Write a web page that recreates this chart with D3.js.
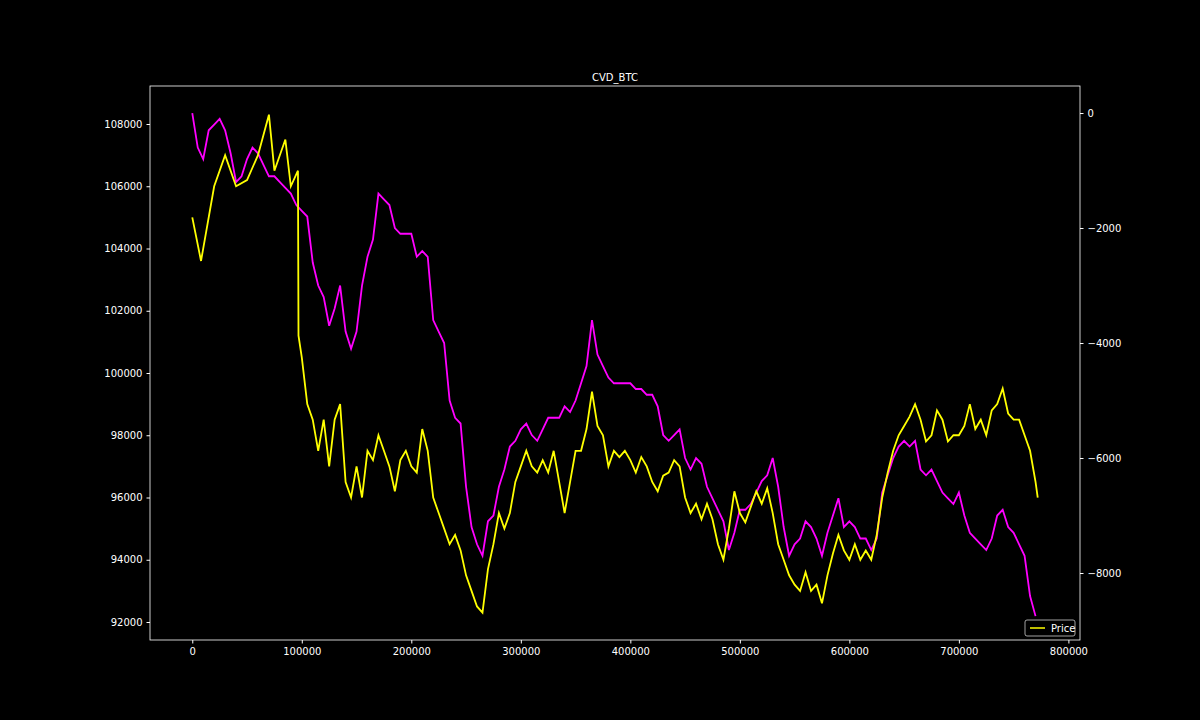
<!DOCTYPE html>
<html><head><meta charset="utf-8">
<script src="https://cdn.jsdelivr.net/npm/d3@7"></script>
<style>body{margin:0;background:#000}text{font-family:"DejaVu Sans",sans-serif}</style>
</head><body><svg id="c" width="1200" height="720"></svg>
<script>
const step = 5000;
const priceValues = [105000,103600,106000,107000,106000,106200,107000,108300,106500,107500,106000,106500,
101200,100500,99000,98500,97500,98500,97000,98500,99000,96500,96000,97000,96000,97500,97200,98000,97500,97000,96200,97200,97500,97000,96800,98200,97500,96000,95500,95000,94500,94800,94300,93500,93000,92500,92300,93700,94500,95500,95000,95500,96500,97000,97500,97000,96800,97200,96800,97500,96500,95500,96500,97500,97500,98200,99400,98300,98000,97000,97500,97300,97500,97200,96800,97300,97000,96500,96200,96700,96800,97200,97000,96000,95500,95800,95300,95800,95300,94500,94000,95000,96200,95500,95200,95700,96200,95800,96300,95500,94500,94000,93500,93200,93000,93600,93000,93200,92600,93500,94200,94800,94300,94000,94500,94000,94300,94000,94800,96000,96800,97500,98000,98300,98600,99000,98500,97800,98000,98800,98500,97800,98000,98000,98300,99000,98200,98500,98000,98800,99000,99500,98700,98500,98500,98000,97500,96500,96000];
const priceX = [0,8000,20000,30000,40000,50000,60000,70000,75000,85000,90000,96500,97000].concat(d3.range(100000,770001,step)).concat([772000]);
const cvdValues = [0,-600,-800,-300,-200,-100,-300,-700,-1200,-1100,-800,-600,-700,-900,-1100,-1100,-1200,-1300,-1400,-1600,-1700,-1800,-2600,-3000,-3200,-3700,-3400,-3000,-3800,-4100,-3800,-3000,-2500,-2200,-1400,-1500,-1600,-2000,-2100,-2100,-2100,-2500,-2400,-2500,-3600,-3800,-4000,-5000,-5300,-5400,-6500,-7200,-7500,-7700,-7100,-7000,-6500,-6200,-5800,-5700,-5500,-5400,-5600,-5700,-5500,-5300,-5300,-5300,-5100,-5200,-5000,-4700,-4400,-3600,-4200,-4400,-4600,-4700,-4700,-4700,-4700,-4800,-4800,-4900,-4900,-5100,-5600,-5700,-5600,-5500,-6000,-6200,-6000,-6100,-6500,-6700,-6900,-7100,-7600,-7300,-6900,-6900,-6800,-6600,-6400,-6300,-6000,-6500,-7200,-7700,-7500,-7400,-7100,-7200,-7400,-7700,-7300,-7000,-6700,-7200,-7100,-7200,-7400,-7400,-7600,-7400,-6600,-6300,-6000,-5800,-5700,-5800,-5700,-6200,-6300,-6200,-6400,-6600,-6700,-6800,-6600,-7000,-7300,-7400,-7500,-7600,-7400,-7000,-6900,-7200,-7300,-7500,-7700,-8400,-8750];
const cvdX = d3.range(0,770001,step).concat([772000]);
const xTicks=[0,100000,200000,300000,400000,500000,600000,700000,800000];
const yTicks=[92000,94000,96000,98000,100000,102000,104000,106000,108000];
const y2Ticks=[-8000,-6000,-4000,-2000,0];

const svg=d3.select("#c");
const L=150,R=1080,T=86,B=640;
const x=d3.scaleLinear().domain([-38600,810600]).range([L,R]);
const y=d3.scaleLinear().domain([91422,109221]).range([B,T]);
const y2=d3.scaleLinear().domain([-9165,470]).range([B,T]);
const g=svg.append("g");
const line=(xs,vs,ys)=>d3.line().defined((d,i)=>xs[i]!==undefined).x((d,i)=>x(xs[i])).y(d=>ys(d))(vs);
g.append("path").attr("d",line(cvdX,cvdValues,y2)).attr("fill","none").attr("stroke","#ff00ff").attr("stroke-width",1.8);
g.append("path").attr("d",line(priceX,priceValues,y)).attr("fill","none").attr("stroke","#ffff00").attr("stroke-width",1.8);
svg.append("rect").attr("x",L).attr("y",T).attr("width",R-L).attr("height",B-T).attr("fill","none").attr("stroke","#fff").attr("stroke-width",0.8);
const style=a=>{a.selectAll("path").remove();a.selectAll("line").attr("stroke","#fff");a.selectAll("text").attr("fill","#fff").style("font-size","10px").style("font-family","DejaVu Sans");};
svg.append("g").attr("transform",`translate(0,${B})`).call(d3.axisBottom(x).tickValues(xTicks).tickFormat(d3.format("d")).tickSize(3.5).tickPadding(4)).call(style);
svg.append("g").attr("transform",`translate(${L},0)`).call(d3.axisLeft(y).tickValues(yTicks).tickFormat(d3.format("d")).tickSize(3.5).tickPadding(4)).call(style);
svg.append("g").attr("transform",`translate(${R},0)`).call(d3.axisRight(y2).tickValues(y2Ticks).tickFormat(d=>d<0?"\u2212"+(-d):d).tickSize(3.5).tickPadding(4)).call(style);
svg.append("text").attr("x",(L+R)/2).attr("y",T-5).attr("text-anchor","middle").attr("fill","#fff").style("font-size","10px").text("CVD_BTC");
const lg=svg.append("g").attr("transform",`translate(${R-55},${B-20})`);
lg.append("rect").attr("width",50).attr("height",16).attr("rx",2).attr("fill","#000").attr("stroke","#ccc").attr("stroke-width",0.8);
lg.append("line").attr("x1",5).attr("x2",20).attr("y1",8).attr("y2",8).attr("stroke","#ffff00").attr("stroke-width",1.5);
lg.append("text").attr("x",26).attr("y",12).attr("fill","#fff").style("font-size","10px").text("Price");
</script></body></html>
